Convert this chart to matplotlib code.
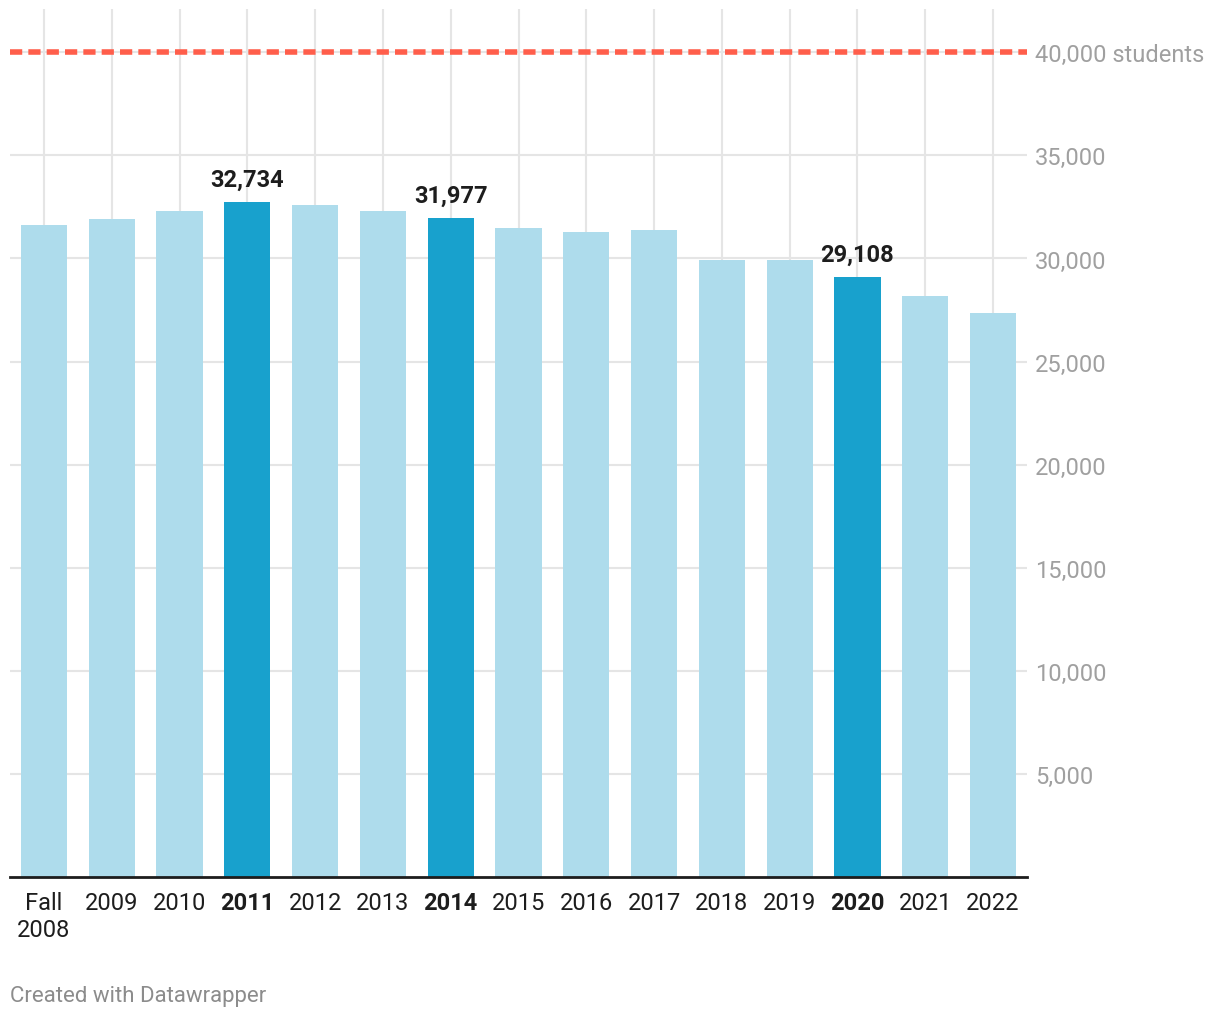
import matplotlib.pyplot as plt

years = ['Fall\n2008', '2009', '2010', '2011', '2012', '2013', '2014', '2015',
         '2016', '2017', '2018', '2019', '2020', '2021', '2022']
students = [31600, 31900, 32320, 32734, 32600, 32320, 31977, 31460,
            31260, 31400, 29920, 29920, 29108, 28200, 27350]
highlight = ['2011', '2014', '2020']
y_ticks = [5000, 10000, 15000, 20000, 25000, 30000, 35000, 40000]
y_tick_labels = ['5,000', '10,000', '15,000', '20,000', '25,000', '30,000',
                 '35,000', '40,000 students']
target = 40000

plt.rcParams['font.family'] = ['Roboto', 'DejaVu Sans']

fig = plt.figure(figsize=(12.2, 10.2), dpi=100)
ax = fig.add_axes([10 / 1220, 142 / 1020, 1017 / 1220, 868 / 1020])

light = '#aedcec'
dark = '#18a1cd'
colors = [dark if y in highlight else light for y in years]
x = range(len(years))
ax.bar(x, students, width=0.68, color=colors, zorder=2)

# Grid lines
for v in y_ticks:
    ax.axhline(v, color='#e5e5e5', lw=1.5, zorder=0)
for i in x:
    ax.axvline(i, color='#e5e5e5', lw=1.5, zorder=0)

# Target line
ax.axhline(target, color='#ff5e4b', lw=4, linestyle=(0, (2.2, 1.1)), zorder=3)

# Value labels on highlighted bars
for i, (y, v) in enumerate(zip(years, students)):
    if y in highlight:
        ax.annotate(f'{v:,}', (i, v), xytext=(0, 8), textcoords='offset points',
                    ha='center', va='bottom', fontsize=17, fontweight='bold',
                    color='#1d1d1d', zorder=4)

ax.set_xlim(-0.5, len(years) - 0.5)
ax.set_ylim(0, 42100)

ax.set_xticks(list(x))
ax.set_xticklabels(years, fontsize=17, color='#1d1d1d', linespacing=1.25)
for lbl, y in zip(ax.get_xticklabels(), years):
    if y in highlight:
        lbl.set_fontweight('bold')

ax.yaxis.tick_right()
ax.set_yticks(y_ticks)
ax.set_yticklabels(y_tick_labels, fontsize=17, color='#a0a0a0')
ax.tick_params(axis='both', length=0)
ax.tick_params(axis='y', pad=6)
ax.tick_params(axis='x', pad=10)

for side in ['top', 'right', 'left']:
    ax.spines[side].set_visible(False)
ax.spines['bottom'].set_color('#1d1d1d')
ax.spines['bottom'].set_linewidth(2)
ax.spines['bottom'].set_zorder(5)

fig.text(10 / 1220, 1 - 997 / 1020, 'Created with Datawrapper', fontsize=16,
         color='#8c8c8c', ha='left', va='center')

plt.savefig('out.png', dpi=100)
